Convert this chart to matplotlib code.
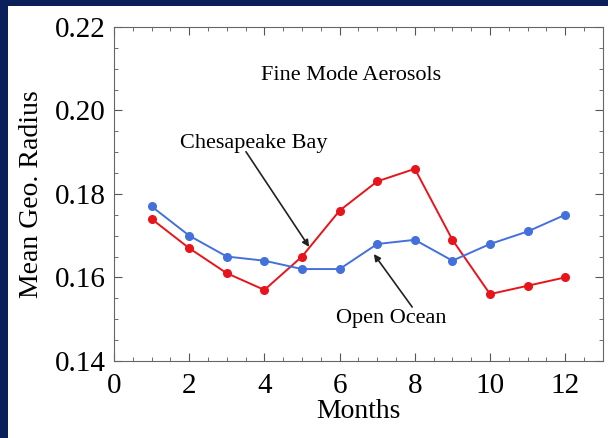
import numpy as np
import matplotlib.pyplot as plt
from matplotlib.patches import Rectangle
from matplotlib.ticker import MultipleLocator

plt.rcParams['font.family'] = ['Liberation Serif', 'DejaVu Serif']

months = [1, 2, 3, 4, 5, 6, 7, 8, 9, 10, 11, 12]
chesapeake = [0.174, 0.167, 0.161, 0.157, 0.165, 0.176, 0.183, 0.186, 0.169, 0.156, 0.158, 0.160]
open_ocean = [0.177, 0.170, 0.165, 0.164, 0.162, 0.162, 0.168, 0.169, 0.164, 0.168, 0.171, 0.175]

fig = plt.figure(figsize=(6.08, 4.38), dpi=100, facecolor='#0b1f5a')
# white slide panel behind the plot
fig.patches.append(Rectangle((8 / 608, 0), 1, 1 - 6 / 438, transform=fig.transFigure,
                             facecolor='white', edgecolor='none', zorder=-5))

ax = fig.add_axes([0.1875, 0.176, 0.804, 0.7626])
ax.set_zorder(2)
ax.plot(months, chesapeake, '-o', color='#e8141c', lw=1.4, ms=5.5)
ax.plot(months, open_ocean, '-o', color='#4470dc', lw=1.4, ms=5.5)

ax.set_xlim(0, 13)
ax.set_ylim(0.14, 0.22)
ax.xaxis.set_major_locator(MultipleLocator(2))
ax.xaxis.set_minor_locator(MultipleLocator(0.5))
ax.yaxis.set_major_locator(MultipleLocator(0.02))
ax.yaxis.set_minor_locator(MultipleLocator(0.005))
ax.yaxis.set_major_formatter(plt.FormatStrFormatter('%.2f'))
ax.tick_params(which='both', direction='in', top=True, right=True, color='#555555')
ax.tick_params(which='major', length=6, labelsize=21)
ax.tick_params(axis='x', which='major', pad=9)
ax.tick_params(axis='y', which='major', pad=6)
ax.tick_params(which='minor', length=3)
for s in ax.spines.values():
    s.set_color('#666666')
    s.set_linewidth(0.8)

ax.set_xlabel('Months', fontsize=20, labelpad=0)
ax.set_ylabel('Mean Geo. Radius', fontsize=20, labelpad=8)

ax.text(6.30, 0.2073, 'Fine Mode Aerosols', fontsize=16, ha='center', va='baseline')
ax.text(3.71, 0.1910, 'Chesapeake Bay', fontsize=16, ha='center', va='baseline')
ax.text(7.37, 0.1491, 'Open Ocean', fontsize=16, ha='center', va='baseline')

arrow = dict(arrowstyle='-|>', color='#222222', lw=1.2, shrinkA=0, shrinkB=0,
             mutation_scale=10)
ax.annotate('', xy=(5.19, 0.1673), xytext=(3.51, 0.1901), arrowprops=arrow)
ax.annotate('', xy=(6.91, 0.1656), xytext=(7.93, 0.1529), arrowprops=arrow)

fig.savefig('out.png', dpi=100, facecolor=fig.get_facecolor())
